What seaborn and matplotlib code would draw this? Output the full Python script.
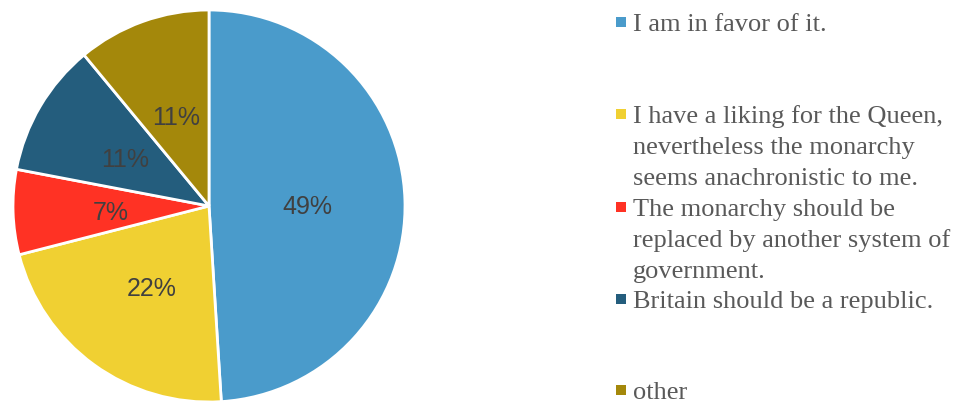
import matplotlib
matplotlib.use("Agg")
import matplotlib.pyplot as plt
import seaborn as sns

categories = [
    "I am in favor of it.",
    "I have a liking for the Queen,\nnevertheless the monarchy\nseems anachronistic to me.",
    "The monarchy should be\nreplaced by another system of\ngovernment.",
    "Britain should be a republic.",
    "other",
]
values = [49, 22, 7, 11, 11]
colors = ["#4A9BCB", "#F0D032", "#FF3224", "#245D7D", "#A4880B"]

sns.set_theme(style="white")
plt.rcParams["font.family"] = ["Liberation Sans", "DejaVu Sans"]

W, H = 960, 403
fig = plt.figure(figsize=(W / 100, H / 100), dpi=100)
fig.patch.set_facecolor("white")

# pie axes in pixel layout
cx, cy, r = 209, 206, 196
ax = fig.add_axes([(cx - r) / W, (H - cy - r) / H, 2 * r / W, 2 * r / H])
wedges, texts, autotexts = ax.pie(
    values,
    colors=colors,
    startangle=90,
    counterclock=False,
    autopct="%.0f%%",
    pctdistance=0.5,
    wedgeprops=dict(edgecolor="white", linewidth=2.0),
    textprops=dict(fontsize=18, color="#404040", family=["Liberation Sans", "DejaVu Sans"]),
)
for t in autotexts:
    x, y = t.get_position()
    t.set_position((x, y - 0.02))
ax.set_xlim(-1, 1)
ax.set_ylim(-1, 1)
ax.set_aspect("auto")
ax.axis("off")

# manual legend
baselines = [31, 123, 216, 308, 399]
line_gap = 31
mx, tx = 621, 633
for lab, col, b in zip(categories, colors, baselines):
    fig.patches.append(
        plt.Rectangle(((mx - 5) / W, (H - (b - 9) - 5) / H), 10 / W, 10 / H,
                      transform=fig.transFigure, facecolor=col, edgecolor="none")
    )
    for i, line in enumerate(lab.split("\n")):
        fig.text(tx / W, (H - (b + i * line_gap)) / H, line,
                 ha="left", va="baseline", fontsize=19, color="#595959",
                 family=["Liberation Serif", "DejaVu Serif"])

fig.savefig("out.png", dpi=100, facecolor="white")
